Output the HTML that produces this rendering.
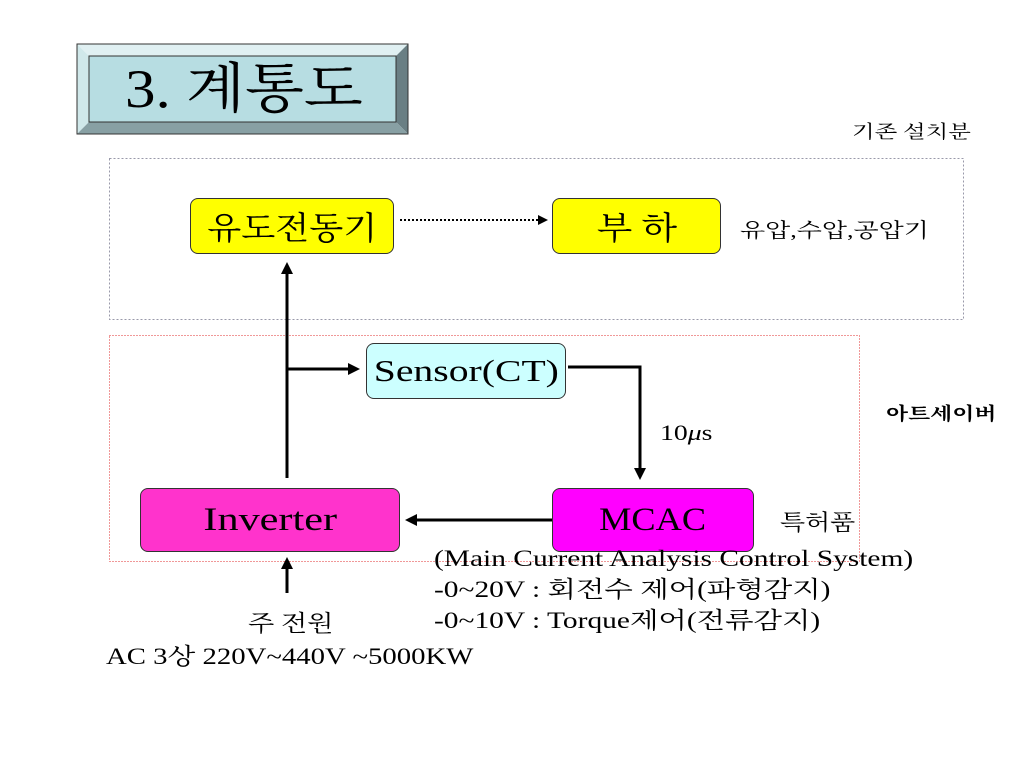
<!DOCTYPE html>
<html><head><meta charset="utf-8"><style>
body{margin:0;width:1024px;height:768px;background:#fff;position:relative;overflow:hidden;font-family:"Liberation Serif","Noto Serif CJK SC","Noto Sans CJK KR",serif;}
.a{position:absolute;white-space:nowrap;transform-origin:0 0;}
.box{position:absolute;border:1px solid #333;border-radius:8px;display:flex;align-items:center;justify-content:center;color:#000;box-sizing:border-box;}
.box span{display:inline-block;white-space:nowrap;}
</style></head><body>
<svg class="a" style="left:0;top:0" width="1024" height="768">
<polygon points="77,44 408,44 396,56 89,56" fill="#e0f0f2"/>
<polygon points="77,44 89,56 89,122 77,134" fill="#d0e8ea"/>
<polygon points="408,44 408,134 396,122 396,56" fill="#6a7f84"/>
<polygon points="77,134 89,122 396,122 408,134" fill="#88a0a4"/>
<rect x="89" y="56" width="307" height="66" fill="#b7dde2" stroke="#333" stroke-width="1"/>
<rect x="77" y="44" width="331" height="90" fill="none" stroke="#333" stroke-width="1"/>
<rect x="109.5" y="158.5" width="854" height="161" fill="none" stroke="#99a" stroke-dasharray="2,2"/>
<rect x="109.5" y="335.5" width="750" height="226" fill="none" stroke="#e03030" stroke-dasharray="1,2"/>
<line x1="400" y1="220" x2="540" y2="220" stroke="#000" stroke-width="2" stroke-dasharray="2,2"/>
<polygon points="548,220 538,215 538,225" fill="#000"/>
<line x1="287" y1="478" x2="287" y2="272" stroke="#000" stroke-width="3"/>
<polygon points="287,262 281,274 293,274" fill="#000"/>
<line x1="287" y1="369" x2="350" y2="369" stroke="#000" stroke-width="3"/>
<polygon points="360,369 348,363 348,375" fill="#000"/>
<polyline points="568,367 640,367 640,470" fill="none" stroke="#000" stroke-width="3"/>
<polygon points="640,480 634,468 646,468" fill="#000"/>
<line x1="552" y1="520" x2="415" y2="520" stroke="#000" stroke-width="3"/>
<polygon points="405,520 417,514 417,526" fill="#000"/>
<line x1="287" y1="593" x2="287" y2="567" stroke="#000" stroke-width="3"/>
<polygon points="287,557 281,569 293,569" fill="#000"/>
</svg>
<div class="a" style="left:125px;top:56px;line-height:66px;font-size:54px;transform:scaleX(1.13)">3. 계통도</div>
<div class="a" style="left:852px;top:118px;font-size:18px;transform:scaleX(1.3)">기존 설치분</div>
<div class="box" style="left:190px;top:198px;width:204px;height:56px;background:#ffff00;font-size:32px"><span style="transform:scaleX(1.1)">유도전동기</span></div>
<div class="box" style="left:552px;top:198px;width:169px;height:56px;background:#ffff00;font-size:32px"><span style="transform:scaleX(1.15)">부 하</span></div>
<div class="a" style="left:740px;top:214px;font-size:20px;transform:scaleX(1.3)">유압,수압,공압기</div>
<div class="box" style="left:366px;top:343px;width:200px;height:56px;background:#ccffff;font-size:31px"><span style="transform:scaleX(1.28)">Sensor(CT)</span></div>
<div class="a" style="left:886px;top:400px;font-size:18px;font-weight:bold;transform:scaleX(1.27)">아트세이버</div>
<div class="a" style="left:660px;top:420px;font-size:22px;transform:scaleX(1.26)">10<i>μ</i>s</div>
<div class="box" style="left:140px;top:488px;width:260px;height:64px;background:#ff33cc;font-size:33px"><span style="transform:scaleX(1.28)">Inverter</span></div>
<div class="box" style="left:552px;top:488px;width:202px;height:64px;background:#ff00ff;font-size:33px"><span style="transform:scaleX(1.1)">MCAC</span></div>
<div class="a" style="left:780px;top:506px;font-size:22px;transform:scaleX(1.18)">특허품</div>
<div class="a" style="left:434px;top:543px;font-size:23px;line-height:31px;transform:scaleX(1.28)">(Main Current Analysis Control System)<br>-0~20V : 회전수 제어(파형감지)<br>-0~10V : Torque제어(전류감지)</div>
<div class="a" style="left:248px;top:605px;font-size:23px;transform:scaleX(1.18)">주 전원</div>
<div class="a" style="left:106px;top:638px;font-size:23px;transform:scaleX(1.25)">AC 3상 220V~440V ~5000KW</div>
</body></html>
